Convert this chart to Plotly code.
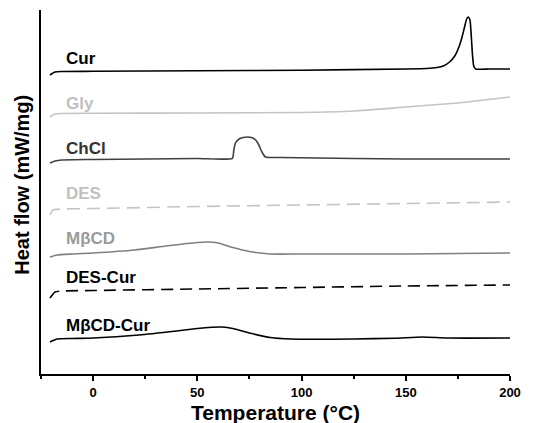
import plotly.graph_objects as go

# Data (y in arbitrary heat-flow units, offset per curve)
cur_T = [-20.7, -18.3, -15, 0, 50, 100, 150, 160, 165, 168, 171, 173.5, 175.5, 177, 178.2, 179.2, 180,
         180.8, 181.4, 182, 182.6, 183.5, 190, 200]
cur_y = [299, 302, 302.5, 302.7, 303.2, 303.8, 305, 305.5, 306.5, 308, 312, 318, 327, 337, 347, 355, 357,
         354, 339, 319, 308, 305, 305, 305]

gly_T = [-20.7, -18.3, -15, 0, 50, 100, 125, 150, 175, 200]
gly_y = [257, 260, 260.5, 260.7, 261, 261.5, 263, 267, 271, 277]

chcl_T = [-20.7, -18.3, -15, 0, 50, 66.8, 67.5, 68.3, 70, 72, 74, 76, 78, 79.5, 81, 82.7, 90, 125, 150, 200]
chcl_y = [211, 213, 214, 214.5, 215.5, 215.7, 224, 231, 235, 236.5, 237, 236.5, 234, 229, 222, 217, 216.5, 215.5, 215, 215]

des_T = [-20.7, -19.3, -15, 0, 50, 100, 150, 200]
des_y = [159, 164, 165, 165.5, 167.5, 169, 170.5, 172]

mbcd_T = [-20.7, -17.3, -10, 0, 20, 35, 50, 55, 60, 67, 75, 85, 100, 150, 200]
mbcd_y = [117, 119, 120, 121, 124, 128, 131.5, 132, 131, 126.5, 122.5, 120, 120, 120, 121]

descur_T = [-20.7, -18.3, -15, 0, 50, 100, 150, 200]
descur_y = [76, 82, 83, 83.5, 85, 86.5, 88, 89]

mbcdcur_T = [-20.7, -17.3, -10, 0, 22, 40, 50, 57, 62, 67, 75, 85, 95, 125, 145, 158, 170, 200]
mbcdcur_y = [32, 35, 35.5, 36, 39, 43, 45.5, 46.7, 47, 45.5, 41, 36.5, 35, 35, 35.8, 37, 36, 36]

names = ["Cur", "Gly", "ChCl", "DES", "MβCD", "DES-Cur", "MβCD-Cur"]
label_y = [316, 271, 226, 181, 136, 97, 49]

tick_vals = [0, 50, 100, 150, 200]
tick_text = ["0", "50", "100", "150", "200"]

series = [
    (cur_T, cur_y, "#000000", "solid"),
    (gly_T, gly_y, "#c4c4c4", "solid"),
    (chcl_T, chcl_y, "#404040", "solid"),
    (des_T, des_y, "#c4c4c4", "13px,7px"),
    (mbcd_T, mbcd_y, "#7f7f7f", "solid"),
    (descur_T, descur_y, "#000000", "12px,7px"),
    (mbcdcur_T, mbcdcur_y, "#000000", "solid"),
]
label_colors = ["#000000", "#c0c0c0", "#333333", "#c0c0c0", "#9a9a9a", "#000000", "#000000"]

fig = go.Figure()
for (t, y, c, d), n in zip(series, names):
    fig.add_trace(go.Scatter(x=t, y=y, mode="lines", name=n,
                             line=dict(color=c, width=1.6, dash=d, shape="spline", smoothing=0.5),
                             showlegend=False))

font_family = "Liberation Sans, Arial, sans-serif"
for n, ly, lc in zip(names, label_y, label_colors):
    fig.add_annotation(x=-13.5, y=ly, text="<b>%s</b>" % n, showarrow=False,
                       xanchor="left", yanchor="middle", xshift=-1,
                       font=dict(family=font_family, size=17, color=lc))

fig.add_annotation(xref="paper", yref="paper", x=0.5, y=-0.07, yanchor="top",
                   text="<b>Temperature (°C)</b>", showarrow=False,
                   font=dict(family=font_family, size=21, color="#000"))
fig.add_annotation(xref="paper", yref="paper", x=0, y=0.52, xanchor="center",
                   xshift=-19,
                   text="<b>Heat flow (mW/mg)</b>", showarrow=False, textangle=-90,
                   font=dict(family=font_family, size=20, color="#000"))

fig.update_layout(
    width=544, height=423,
    margin=dict(l=41, r=34, t=10, b=49),
    paper_bgcolor="white", plot_bgcolor="white",
    font=dict(family=font_family, color="#000"),
)
fig.update_xaxes(range=[-25, 200], showgrid=False, zeroline=False,
                 showline=True, linecolor="#000", linewidth=2,
                 ticks="outside", ticklen=5, tickwidth=1.5, tickcolor="#000",
                 tickmode="array", tickvals=tick_vals,
                 ticktext=["<b>%s</b>" % s for s in tick_text],
                 tickfont=dict(family=font_family, size=13, color="#000"),
                 minor=dict(ticks="outside", ticklen=3, tickwidth=1.5, tickcolor="#000", dtick=25, tick0=0))
fig.update_yaxes(range=[0, 364], showgrid=False, zeroline=False,
                 showline=True, linecolor="#000", linewidth=2,
                 ticks="", showticklabels=False)

fig.write_html("out.html")
